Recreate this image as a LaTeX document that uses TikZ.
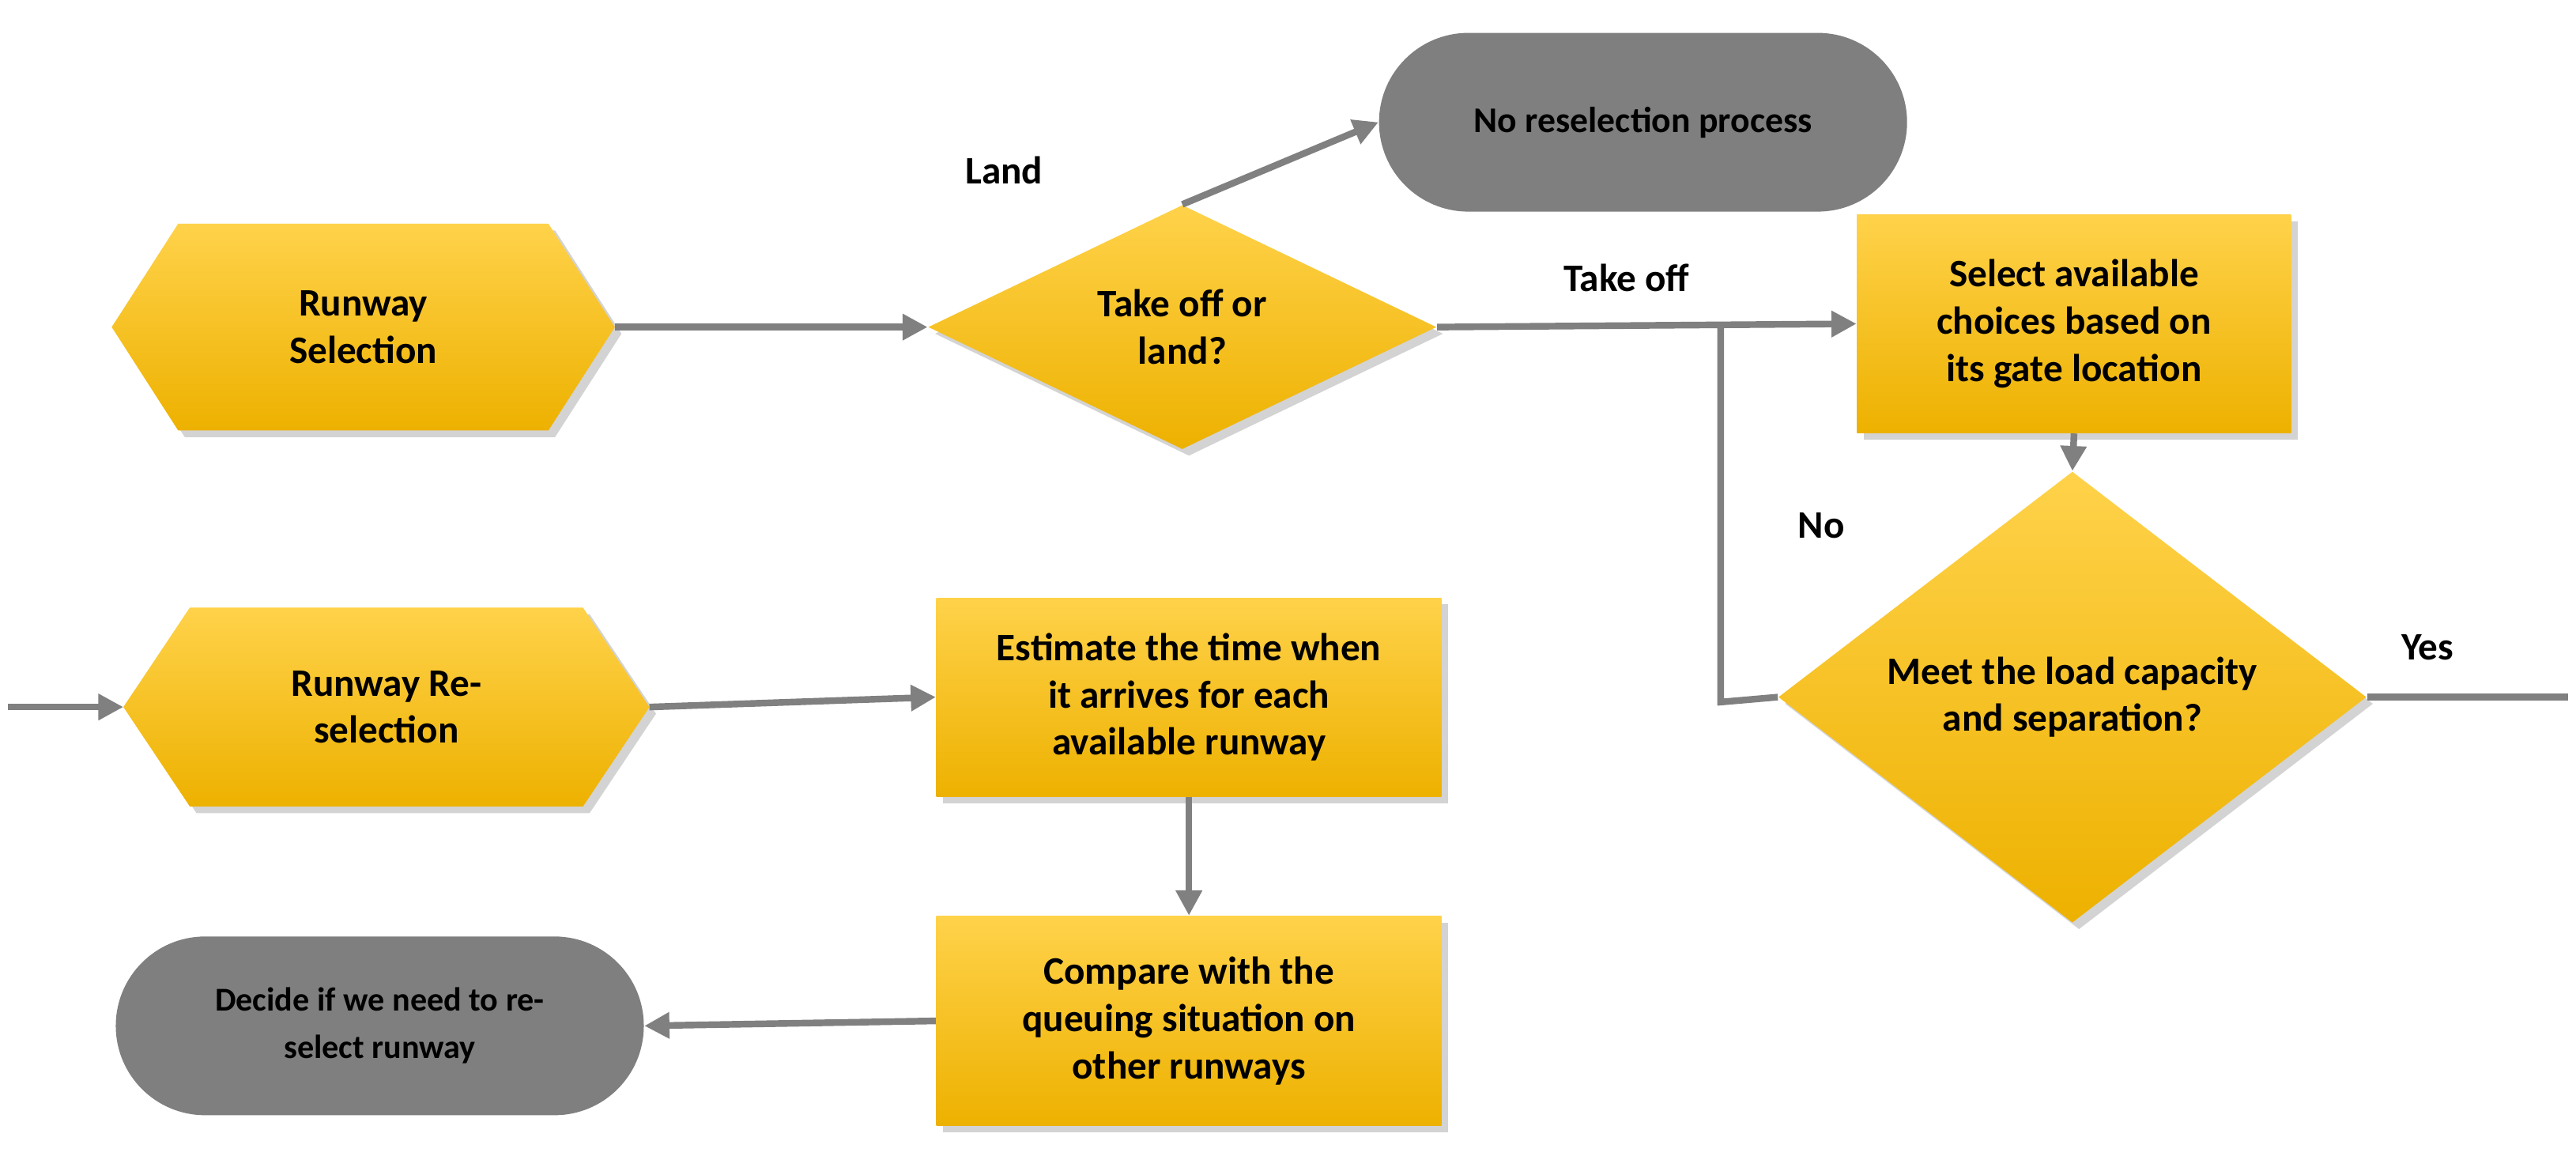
\documentclass[tikz,border=0pt]{standalone}
\usepackage{fontspec}
\setmainfont{Carlito}
\usetikzlibrary{shapes.geometric,arrows.meta,shadows}
\definecolor{ygold}{HTML}{FFC000}
\definecolor{ylight}{HTML}{FFD24A}
\definecolor{ydark}{HTML}{EDB100}
\definecolor{gnode}{HTML}{7F7F7F}
\definecolor{gline}{HTML}{808080}
\begin{document}
\begin{tikzpicture}[x=0.02089cm,y=-0.02089cm,
  ybox/.style={rectangle,top color=ylight,bottom color=ydark,draw=none,drop shadow={opacity=0.35},align=center,font=\fontsize{14}{17}\selectfont\bfseries,inner sep=0pt},
  ydia/.style={diamond,top color=ylight,bottom color=ydark,draw=none,drop shadow={opacity=0.35},align=center,font=\fontsize{14}{17}\selectfont\bfseries,inner sep=0pt},
  gbox/.style={rectangle,rounded corners=1.13cm,fill=gnode,align=center,minimum width=6.68cm,minimum height=2.26cm,inner sep=0pt},
  hexlab/.style={align=center,font=\fontsize{14}{17}\selectfont\bfseries,minimum width=6.35cm,minimum height=2.6cm,inner sep=0pt},
  hexfill/.style={top color=ylight,bottom color=ydark,drop shadow={opacity=0.35}},
  conn/.style={draw=gline,line width=2.4pt,-{Triangle[length=9pt,width=9pt]}},
  line/.style={draw=gline,line width=2.4pt},
  lab/.style={font=\fontsize{14}{17}\selectfont\bfseries}]
\useasboundingbox (0,0) rectangle (1560,702);
% hexagons
\node[hexlab] (rs) at (220,198) {};
\path[hexfill] (rs.west) -- ([xshift=0.84cm]rs.north west) -- ([xshift=-0.84cm]rs.north east) -- (rs.east) -- ([xshift=-0.84cm]rs.south east) -- ([xshift=0.84cm]rs.south west) -- cycle;
\node[hexlab] at (rs) {Runway\\Selection};
\node[hexlab,minimum width=6.64cm,minimum height=2.5cm] (rr) at (234,428) {};
\path[hexfill] (rr.west) -- ([xshift=0.84cm]rr.north west) -- ([xshift=-0.84cm]rr.north east) -- (rr.east) -- ([xshift=-0.84cm]rr.south east) -- ([xshift=0.84cm]rr.south west) -- cycle;
\node[hexlab] at (rr) {Runway Re-\\selection};
% others
\node[ydia,minimum width=6.43cm,minimum height=3.07cm] (tol) at (716,198) {Take off or\\land?};
\node[gbox,font=\fontsize{13}{16}\selectfont\bfseries] (nrp) at (995,74) {No reselection process};
\node[ybox,minimum width=5.49cm,minimum height=2.76cm] (sel) at (1256,196) {Select available\\choices based on\\its gate location};
\node[ydia,minimum width=7.44cm,minimum height=4.07cm] (meet) at (1255,422) {Meet the load capacity\\and separation?};
\node[ybox,minimum width=6.39cm,minimum height=2.51cm] (est) at (720,422) {Estimate the time when\\it arrives for each\\available runway};
\node[ybox,minimum width=6.39cm,minimum height=2.65cm] (cmp) at (720,618) {Compare with the\\queuing situation on\\other runways};
\node[gbox,font=\fontsize{12}{17}\selectfont\bfseries] (dec) at (230,621) {Decide if we need to re-\\select runway};
\coordinate (in) at (5,428);
\coordinate (yes) at (1555,422);
\coordinate (nocorner) at (1042,425);
\coordinate (nojoin) at (1042,198);
% connectors
\draw[conn] (rs.east) -- (tol.west);
\draw[conn] (tol.north) -- (nrp.west);
\draw[conn] (tol.east) -- (sel.west);
\draw[conn] (sel.south) -- (meet.north);
\draw[line] (meet.west) -- (nocorner) -- (nojoin);
\draw[line] (meet.east) -- (yes);
\draw[conn] (in) -- (rr.west);
\draw[conn] (rr.east) -- (est.west);
\draw[conn] (est.south) -- (cmp.north);
\draw[conn] (cmp.west) -- (dec.east);
% labels
\node[lab] at (608,103) {Land};
\node[lab] at (985,168) {Take off};
\node[lab] at (1103,318) {No};
\node[lab] at (1470,392) {Yes};
\end{tikzpicture}
\end{document}
